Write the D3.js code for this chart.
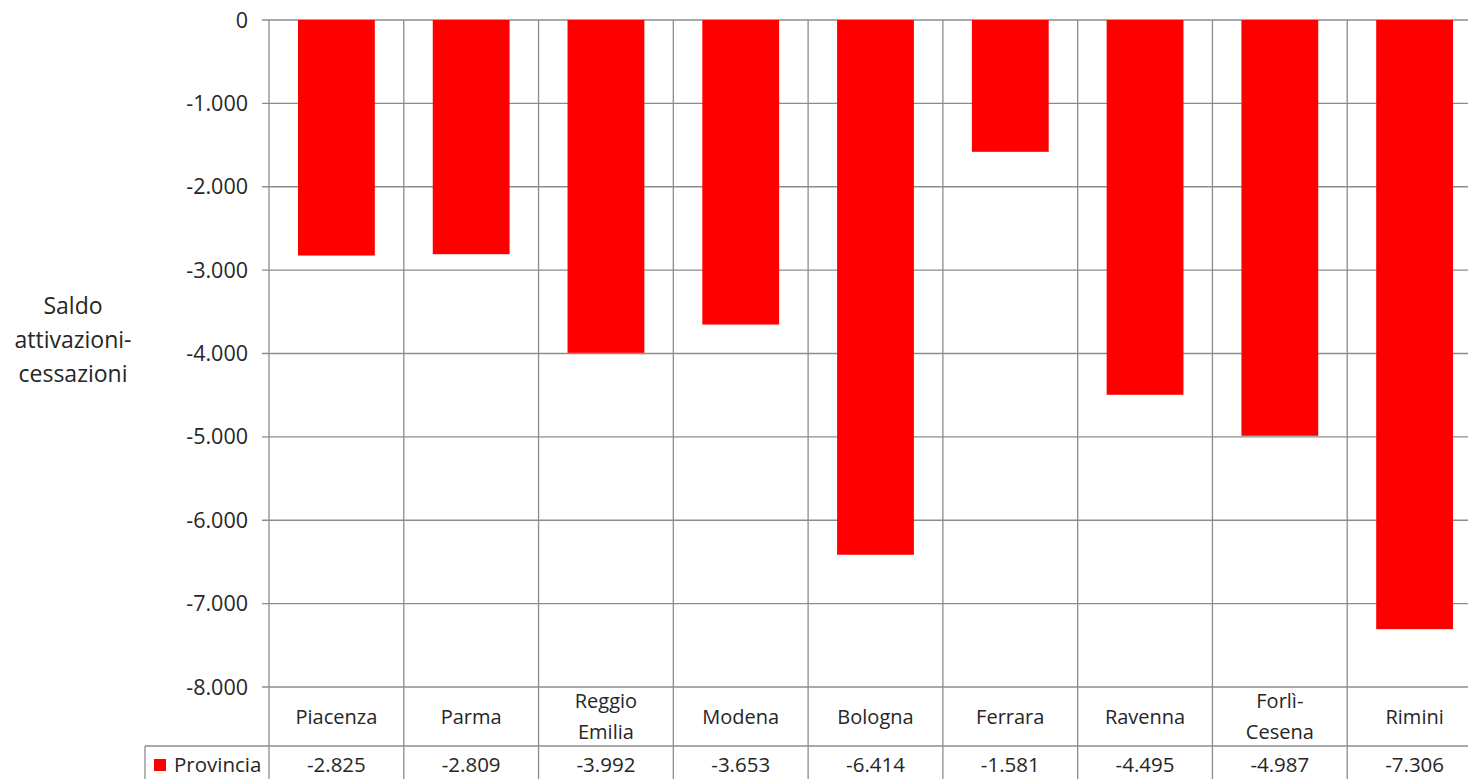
<!DOCTYPE html>
<html><head><meta charset="utf-8">
<script src="https://cdn.jsdelivr.net/npm/d3@7"></script>
<style>body{margin:0;background:#fff;overflow:hidden}svg{display:block}text{font-family:"Open Sans",sans-serif;fill:#262626}</style>
</head><body>
<svg id="c" width="1468" height="779"></svg>
<script>
const categories = ["Piacenza","Parma","Reggio Emilia","Modena","Bologna","Ferrara","Ravenna","Forlì-Cesena","Rimini"];
const categoryLines = [["Piacenza"],["Parma"],["Reggio","Emilia"],["Modena"],["Bologna"],["Ferrara"],["Ravenna"],["Forlì-","Cesena"],["Rimini"]];
const values = [-2825,-2809,-3992,-3653,-6414,-1581,-4495,-4987,-7306];
const valueLabels = ["-2.825","-2.809","-3.992","-3.653","-6.414","-1.581","-4.495","-4.987","-7.306"];
const yTicks = [0,-1000,-2000,-3000,-4000,-5000,-6000,-7000,-8000];
const yTickLabels = ["0","-1.000","-2.000","-3.000","-4.000","-5.000","-6.000","-7.000","-8.000"];
const seriesName = "Provincia";
const yTitle = ["Saldo","attivazioni-","cessazioni"];

(function(){
const svg = d3.select("#c");
const pl = 269, pr = 1482, pt = 20, pb = 687;
const catRowBottom = 746, H = 779;
const grid = "#8c8c8c", red = "#ff0000";

const x = d3.scaleBand().domain(categories).range([pl, pr]).paddingInner(0).paddingOuter(0);
const y = d3.scaleLinear().domain([-8000, 0]).range([pb, pt]);
const bw = x.bandwidth() * 0.57;

svg.append("g").selectAll("line").data(yTicks).join("line")
  .attr("x1", pl - 7).attr("x2", pr).attr("y1", d => y(d)).attr("y2", d => y(d))
  .attr("stroke", grid).attr("stroke-width", 1.3);

const bounds = categories.map(c => x(c)).concat([pr]);
svg.append("g").selectAll("line").data(bounds).join("line")
  .attr("x1", d => d).attr("x2", d => d).attr("y1", pt).attr("y2", H)
  .attr("stroke", grid).attr("stroke-width", 1.3);

svg.append("g").selectAll("rect").data(values).join("rect")
  .attr("x", (d, i) => x(categories[i]) + (x.bandwidth() - bw) / 2)
  .attr("width", bw)
  .attr("y", d => y(Math.max(0, d)))
  .attr("height", d => Math.abs(y(d) - y(0)))
  .attr("fill", red);

svg.append("g").selectAll("text").data(yTicks).join("text")
  .attr("x", 248).attr("y", d => y(d)).attr("dy", "0.35em")
  .attr("text-anchor", "end").attr("font-size", 21.5)
  .text((d, i) => yTickLabels[i]);

svg.append("line").attr("x1", 145).attr("x2", pr).attr("y1", catRowBottom).attr("y2", catRowBottom)
  .attr("stroke", grid).attr("stroke-width", 1.3);
svg.append("line").attr("x1", 145).attr("x2", 145).attr("y1", catRowBottom).attr("y2", H)
  .attr("stroke", grid).attr("stroke-width", 1.3);

const catG = svg.append("g");
categoryLines.forEach((lines, i) => {
  const cx = x(categories[i]) + x.bandwidth() / 2;
  const mid = (pb + catRowBottom) / 2;
  const lh = 31;
  lines.forEach((t, j) => {
    catG.append("text").attr("x", cx).attr("y", mid + (j - (lines.length - 1) / 2) * lh)
      .attr("dy", "0.35em").attr("text-anchor", "middle").attr("font-size", 20).text(t);
  });
});

const rowMid = 765;
svg.append("g").selectAll("text").data(valueLabels).join("text")
  .attr("x", (d, i) => x(categories[i]) + x.bandwidth() / 2).attr("y", rowMid).attr("dy", "0.35em")
  .attr("text-anchor", "middle").attr("font-size", 20.5).text(d => d);

svg.append("rect").attr("x", 154).attr("y", 759).attr("width", 12).attr("height", 12).attr("fill", red);
svg.append("text").attr("x", 174).attr("y", rowMid).attr("dy", "0.35em").attr("font-size", 20.5).text(seriesName);

yTitle.forEach((t, j) => {
  svg.append("text").attr("x", 73).attr("y", 306 + j * 34).attr("dy", "0.35em")
    .attr("text-anchor", "middle").attr("font-size", 23).text(t);
});
})();
</script>
</body></html>
